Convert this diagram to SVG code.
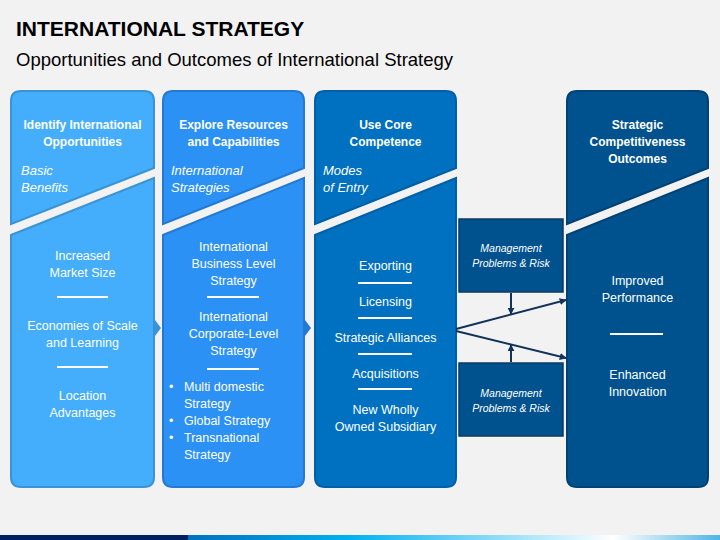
<svg xmlns="http://www.w3.org/2000/svg" width="720" height="540" viewBox="0 0 720 540">
<defs>
<style>
.t{font-family:"Liberation Sans",Arial,sans-serif;fill:#fff;}
.h{font-size:12px;font-weight:bold;text-anchor:middle;}
.i{font-size:13px;font-style:italic;}
.b{font-size:12.5px;text-anchor:middle;}
.bl{font-size:12.5px;}
.m{font-size:10.5px;font-style:italic;text-anchor:middle;}
.dv{stroke:#fff;stroke-width:2;}
.c1{fill:#44AEFD;stroke:#3A94D4;stroke-width:2;}
.c2{fill:#2C91F4;stroke:#2479D2;stroke-width:2;}
.c3{fill:#0070C0;stroke:#005FA6;stroke-width:2;}
.c4{fill:#00528E;stroke:#004274;stroke-width:2;}
.mg{fill:#00528E;stroke:#0B3A63;stroke-width:1.5;}
.cn{stroke:#13325A;stroke-width:2;fill:none;}
</style>
<marker id="ah" viewBox="0 0 10 10" refX="9" refY="5" markerWidth="7" markerHeight="7" markerUnits="userSpaceOnUse" orient="auto">
<path d="M0,0 L10,5 L0,10 Z" fill="#13325A"/>
</marker>
<linearGradient id="bar" x1="188" y1="0" x2="720" y2="0" gradientUnits="userSpaceOnUse">
<stop offset="0" stop-color="#0070C0"/>
<stop offset="0.3" stop-color="#00B0F0"/>
<stop offset="0.8" stop-color="#FFFFFF"/>
<stop offset="1" stop-color="#4FB4E4"/>
</linearGradient>
</defs>
<rect width="720" height="540" fill="#F2F2F2"/>
<text x="16" y="36" font-family="Liberation Sans,Arial,sans-serif" font-size="21" font-weight="bold" fill="#000">INTERNATIONAL STRATEGY</text>
<text x="16" y="66" font-family="Liberation Sans,Arial,sans-serif" font-size="18.5" fill="#000">Opportunities and Outcomes of International Strategy</text>

<g id="col1">
<path class="c1" d="M11,101 Q11,91 21,91 H144 Q154,91 154,101 V168 L11,224 Z"/>
<path class="c1" d="M11,235 L154,178 V477 Q154,487 144,487 H21 Q11,487 11,477 Z"/>
<path d="M155,320 L161,328 L155,336 Z" fill="#3A94D4"/>
<text class="t h" x="82.5" y="129">Identify International</text>
<text class="t h" x="82.5" y="146">Opportunities</text>
<text class="t i" x="21" y="175">Basic</text>
<text class="t i" x="21" y="192">Benefits</text>
<text class="t b" x="82.5" y="260">Increased</text>
<text class="t b" x="82.5" y="277">Market Size</text>
<line class="dv" x1="57" y1="297" x2="108" y2="297"/>
<text class="t b" x="82.5" y="330">Economies of Scale</text>
<text class="t b" x="82.5" y="347">and Learning</text>
<line class="dv" x1="57" y1="367" x2="108" y2="367"/>
<text class="t b" x="82.5" y="400">Location</text>
<text class="t b" x="82.5" y="417">Advantages</text>
</g>

<g id="col2">
<path class="c2" d="M163,101 Q163,91 173,91 H294 Q304,91 304,101 V168 L163,224 Z"/>
<path class="c2" d="M163,235 L304,178 V477 Q304,487 294,487 H173 Q163,487 163,477 Z"/>
<path d="M305,320 L311,328 L305,336 Z" fill="#2479D2"/>
<text class="t h" x="233.5" y="129">Explore Resources</text>
<text class="t h" x="233.5" y="146">and Capabilities</text>
<text class="t i" x="171" y="175">International</text>
<text class="t i" x="171" y="192">Strategies</text>
<text class="t b" x="233.5" y="251">International</text>
<text class="t b" x="233.5" y="268">Business Level</text>
<text class="t b" x="233.5" y="285">Strategy</text>
<line class="dv" x1="207" y1="297" x2="259" y2="297"/>
<text class="t b" x="233.5" y="321">International</text>
<text class="t b" x="233.5" y="338">Corporate-Level</text>
<text class="t b" x="233.5" y="355">Strategy</text>
<line class="dv" x1="207" y1="369" x2="259" y2="369"/>
<text class="t bl" x="169" y="391">•</text>
<text class="t bl" x="184" y="391">Multi domestic</text>
<text class="t bl" x="184" y="408">Strategy</text>
<text class="t bl" x="169" y="425">•</text>
<text class="t bl" x="184" y="425">Global Strategy</text>
<text class="t bl" x="169" y="442">•</text>
<text class="t bl" x="184" y="442">Transnational</text>
<text class="t bl" x="184" y="459">Strategy</text>
</g>

<g id="col3">
<path class="c3" d="M315,101 Q315,91 325,91 H446 Q456,91 456,101 V168 L315,224 Z"/>
<path class="c3" d="M315,235 L456,178 V477 Q456,487 446,487 H325 Q315,487 315,477 Z"/>
<text class="t h" x="385.5" y="129">Use Core</text>
<text class="t h" x="385.5" y="146">Competence</text>
<text class="t i" x="323" y="175">Modes</text>
<text class="t i" x="323" y="192">of Entry</text>
<text class="t b" x="385.5" y="270">Exporting</text>
<line class="dv" x1="358" y1="283" x2="412" y2="283"/>
<text class="t b" x="385.5" y="306">Licensing</text>
<line class="dv" x1="358" y1="318" x2="412" y2="318"/>
<text class="t b" x="385.5" y="342">Strategic Alliances</text>
<line class="dv" x1="358" y1="354" x2="412" y2="354"/>
<text class="t b" x="385.5" y="378">Acquisitions</text>
<line class="dv" x1="358" y1="389" x2="412" y2="389"/>
<text class="t b" x="385.5" y="414">New Wholly</text>
<text class="t b" x="385.5" y="431">Owned Subsidiary</text>
</g>

<g id="col4">
<path class="c4" d="M567,101 Q567,91 577,91 H698 Q708,91 708,101 V168 L567,224 Z"/>
<path class="c4" d="M567,235 L708,178 V477 Q708,487 698,487 H577 Q567,487 567,477 Z"/>
<text class="t h" x="637.5" y="129">Strategic</text>
<text class="t h" x="637.5" y="146">Competitiveness</text>
<text class="t h" x="637.5" y="163">Outcomes</text>
<text class="t b" x="637.5" y="285">Improved</text>
<text class="t b" x="637.5" y="302">Performance</text>
<line class="dv" x1="610" y1="334" x2="663" y2="334"/>
<text class="t b" x="637.5" y="379">Enhanced</text>
<text class="t b" x="637.5" y="396">Innovation</text>
</g>

<g id="mgmt1">
<rect class="mg" x="459" y="219" width="104" height="73"/>
<text class="t m" x="511" y="252">Management</text>
<text class="t m" x="511" y="267">Problems &amp; Risk</text>
</g>
<g id="mgmt2">
<rect class="mg" x="459" y="363" width="104" height="73"/>
<text class="t m" x="511" y="397">Management</text>
<text class="t m" x="511" y="412">Problems &amp; Risk</text>
</g>

<g id="connectors">
<line class="cn" x1="456" y1="329" x2="566" y2="300" marker-end="url(#ah)"/>
<line class="cn" x1="456" y1="331" x2="566" y2="358" marker-end="url(#ah)"/>
<line class="cn" x1="511" y1="293" x2="511" y2="314" marker-end="url(#ah)"/>
<line class="cn" x1="511" y1="362" x2="511" y2="345" marker-end="url(#ah)"/>
</g>

<rect x="0" y="535" width="188" height="5" fill="#002060"/>
<rect x="188" y="535" width="532" height="5" fill="url(#bar)"/>
</svg>
